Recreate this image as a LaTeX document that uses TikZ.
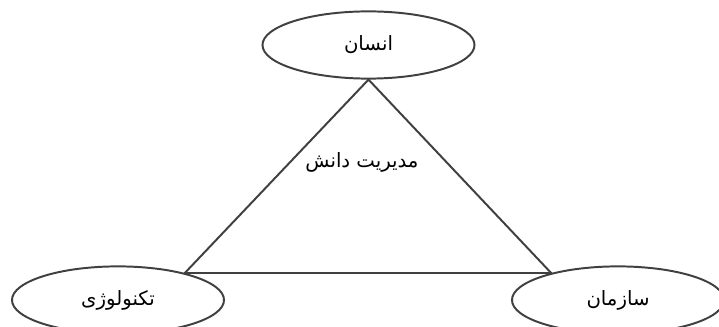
\documentclass[tikz,border=0pt]{standalone}
\usepackage{fontspec}
\usepackage{xcolor}
\newfontfamily\arabicfont[Script=Arabic]{DejaVu Sans}
\TeXXeTstate=1
\usetikzlibrary{shapes.geometric}

\begin{document}
\begin{tikzpicture}[
    x=0.025cm, y=-0.025cm,
    font=\arabicfont\fontsize{14}{16}\selectfont,
    pillar/.style={
        ellipse,
        draw=black!75,
        line width=1.4pt,
        minimum width=5.3cm,
        minimum height=1.68cm,
        inner sep=0pt
    },
    edge/.style={draw=black!75, line width=1.4pt}
]
\useasboundingbox (0,0) rectangle (719,327);

% =========================================================
% Pillars
% =========================================================
\node[pillar] (people) at (368.5,45) {\beginR انسان\endR};
\node[pillar] (tech) at (118,300) {\beginR تکنولوژی\endR};
\node[pillar] (org) at (618,300) {\beginR سازمان\endR};

% Centre
\node (km) at (362,162) {\beginR مدیریت دانش\endR};

% =========================================================
% Triangle
% =========================================================
\draw[edge] (people.south) -- (tech.22) -- (org.158) -- cycle;

\end{tikzpicture}
\end{document}
